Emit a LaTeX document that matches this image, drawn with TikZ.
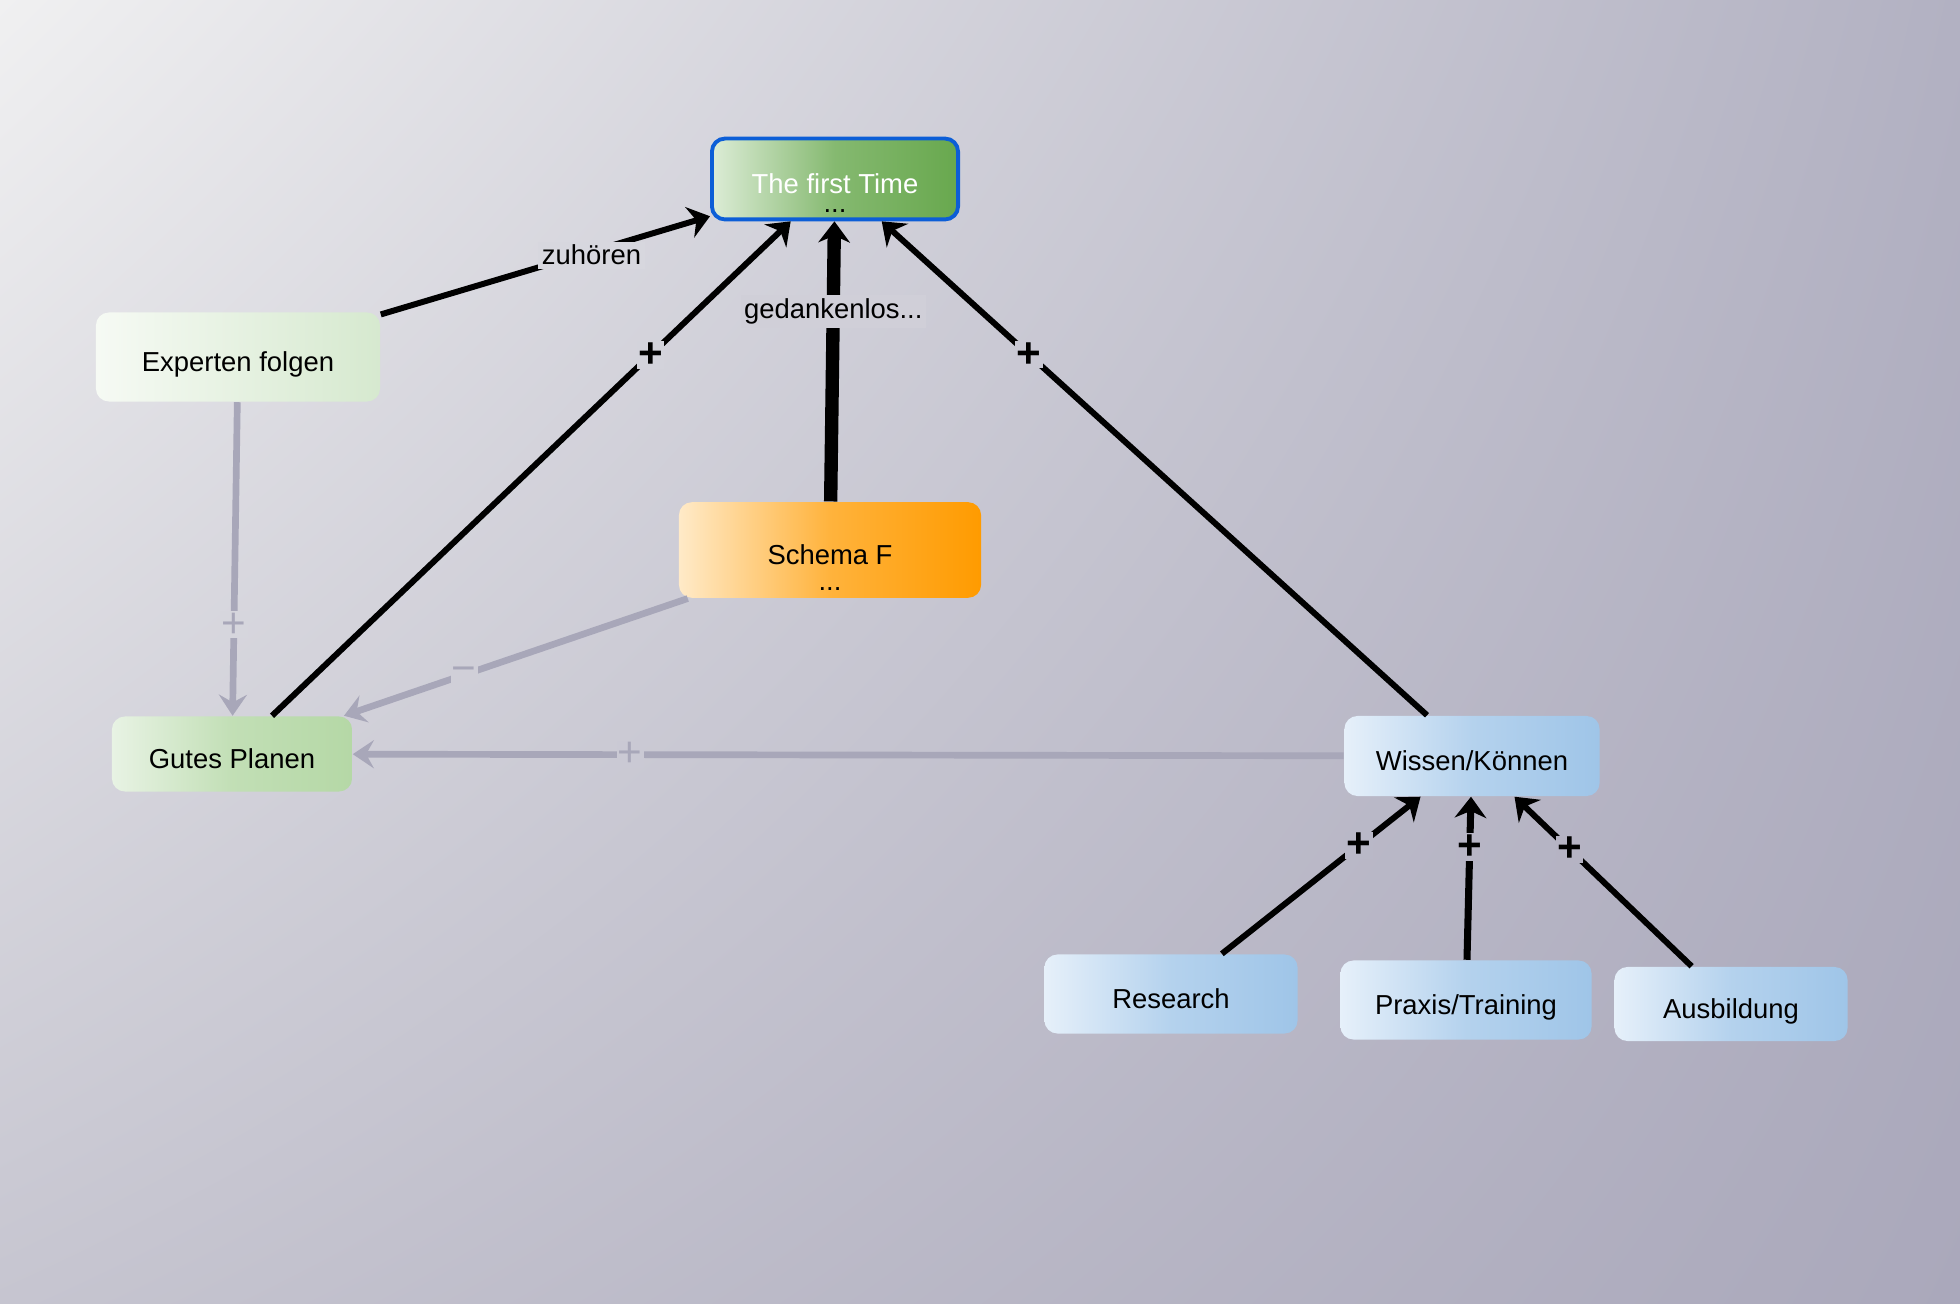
\documentclass[tikz,border=0pt]{standalone}
\usepackage{fontspec}
\setmainfont{Liberation Sans}
\usetikzlibrary{arrows.meta,positioning,calc,shadings}
\definecolor{bgUL}{RGB}{240,240,241}
\definecolor{bgUR}{RGB}{178,177,194}
\definecolor{bgLL}{RGB}{198,197,208}
\definecolor{bgLR}{RGB}{170,168,187}
\definecolor{linkgray}{RGB}{168,167,185}
\definecolor{ftborder}{RGB}{12,94,215}
\definecolor{ftlight}{RGB}{220,236,214}
\definecolor{ftgreen}{RGB}{104,168,78}
\definecolor{palegreen}{RGB}{246,250,244}
\definecolor{softgreen}{RGB}{214,233,207}
\definecolor{lightgreen}{RGB}{232,243,228}
\definecolor{midgreen}{RGB}{181,216,166}
\definecolor{lightorange}{RGB}{255,234,200}
\definecolor{orangebox}{RGB}{255,155,0}
\definecolor{lightblue}{RGB}{230,240,250}
\definecolor{bluebox}{RGB}{159,197,232}
% background colour under a label, u and v in percent
\newcommand\bgmix[3]{%
  \colorlet{#1top}{bgUR!#2!bgUL}%
  \colorlet{#1bot}{bgLR!#2!bgLL}%
  \colorlet{#1}{#1bot!#3!#1top}}
\bgmix{bgzu}{30}{20}
\bgmix{bgpa}{33}{27}
\bgmix{bgged}{42}{23}
\bgmix{bgpb}{52}{27}
\bgmix{bgga}{12}{48}
\bgmix{bggb}{24}{52}
\bgmix{bggc}{32}{58}
\bgmix{bgra}{69}{65}
\bgmix{bgrb}{75}{65}
\bgmix{bgrc}{80}{65}
\tikzset{
  box/.style={
    rounded corners=1.3mm,
    align=center,
    inner sep=2pt,
    font=\fontsize{7.8}{9.4}\selectfont
  },
  onebox/.style={box, text height=10pt, text depth=1.6pt},
  edgetext/.style={font=\fontsize{7.8}{9.4}\selectfont, inner sep=1pt, yshift=-1pt},
  sign/.style={font=\fontsize{12}{14}\selectfont\bfseries, inner sep=0.4pt},
  graysign/.style={font=\fontsize{12}{14}\selectfont, inner sep=0.4pt, text=linkgray},
  link/.style={-{Stealth[length=6pt,width=9pt]}, line width=1.7pt},
  softlink/.style={-{Stealth[length=6pt,width=8pt,inset=2.2pt]}, line width=1.9pt, draw=linkgray}
}
\begin{document}
\begin{tikzpicture}[x=0.01cm, y=-0.01cm]
        \shade[upper left=bgUL, upper right=bgUR, lower left=bgLL, lower right=bgLR] (0,0) rectangle (1960,1304);
        \node[box, draw=ftborder, line width=1.1pt, left color=ftlight, right color=ftgreen, middle color=ftgreen!75!ftlight, text=white, minimum width=2.46cm, minimum height=0.76cm] (first) at (835,179) {\rule{0pt}{13.6pt}The first Time\\[-4pt]\textcolor{black}{...}};
        \node[onebox, left color=palegreen, right color=softgreen, minimum width=2.84cm, minimum height=0.89cm] (experten) at (238,357) {Experten folgen};
        \node[box, left color=lightorange, right color=orangebox, middle color=orangebox!70!lightorange, minimum width=3.02cm, minimum height=0.95cm] (schema) at (830,550) {\rule{0pt}{15.8pt}Schema F\\[-2pt]...};
        \node[onebox, left color=lightgreen, right color=midgreen, middle color=midgreen!75!lightgreen, minimum width=2.40cm, minimum height=0.75cm] (gutes) at (232,754) {Gutes Planen};
        \node[onebox, left color=lightblue, right color=bluebox, middle color=bluebox!70!lightblue, minimum width=2.55cm, minimum height=0.80cm] (wissen) at (1472,756) {Wissen/Können};
        \node[onebox, left color=lightblue, right color=bluebox, middle color=bluebox!70!lightblue, minimum width=2.53cm, minimum height=0.79cm] (research) at (1171,994) {Research};
        \node[onebox, left color=lightblue, right color=bluebox, middle color=bluebox!70!lightblue, minimum width=2.51cm, minimum height=0.79cm] (praxis) at (1466,1000) {Praxis/Training};
        \node[onebox, left color=lightblue, right color=bluebox, middle color=bluebox!70!lightblue, minimum width=2.33cm, minimum height=0.74cm] (ausbildung) at (1731,1004) {Ausbildung};
        \draw[link] (experten) -- node[edgetext, pos=0.64, fill=bgzu] {zuhören} (first);
        \draw[link] (gutes) -- node[sign, pos=0.73, fill=bgpa] {+} (first);
        \draw[link, line width=3.8pt] (schema) -- node[edgetext, pos=0.69, fill=bgged] {gedankenlos...} (first);
        \draw[link] (wissen) -- node[sign, pos=0.73, fill=bgpb] {+} (first);
        \draw[softlink] (experten) -- node[graysign, pos=0.71, fill=bgga] {+} (gutes);
        \draw[softlink] (schema) -- node[graysign, pos=0.65, fill=bggb] {−} (gutes);
        \draw[softlink] (wissen) -- node[graysign, pos=0.72, fill=bggc] {+} (gutes);
        \draw[link] (research) -- node[sign, pos=0.69, fill=bgra] {+} (wissen);
        \draw[link, line width=2pt] (praxis) -- node[sign, pos=0.69, fill=bgrb] {+} (wissen);
        \draw[link] (ausbildung) -- node[sign, pos=0.69, fill=bgrc] {+} (wissen);
      \end{tikzpicture}
\end{document}
